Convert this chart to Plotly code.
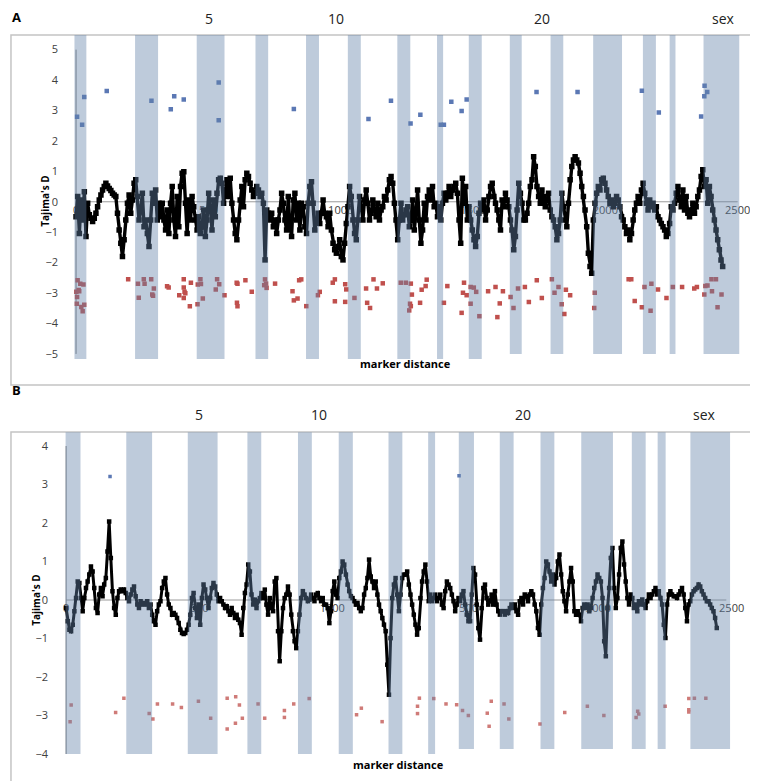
import numpy as np
import plotly.graph_objects as go

# ---------------- DATA ----------------
# Panel A: sliding-window Tajima's D (evenly spaced markers)
A_step = 6.265
A_line_y = [
-0.49,0.17,-1.04,0.06,-0.60,0.33,-1.14,-0.05,-0.43,-0.54,-0.65,-0.54,-0.38,-0.16,0.06,0.22,0.39,0.50,0.61,0.52,
0.44,0.37,0.28,0.22,0.17,-0.38,-0.93,-1.36,-1.80,-1.25,-0.60,-0.05,0.22,-0.38,0.06,0.61,0.72,0.17,-0.60,-0.27,
0.28,-0.82,-0.60,-1.04,-1.47,-0.60,0.28,-0.05,0.39,-0.60,-0.05,-0.49,-0.05,-0.60,-0.93,-0.27,-1.04,-0.05,0.50,-0.60,
-1.14,0.17,-0.82,0.50,0.94,0.99,-0.05,-1.04,0.06,-0.60,0.17,-0.16,-0.60,-0.93,-0.49,-1.04,-0.82,-0.27,-1.14,-0.60,
0.28,-0.16,-0.93,0.06,-0.49,0.28,0.72,0.77,0.61,-0.05,0.39,0.72,0.17,0.77,-0.05,-0.60,-1.04,-1.25,-0.60,0.06,
0.50,-0.16,0.72,0.94,0.83,0.61,0.39,0.17,0.28,0.50,0.39,0.17,0.28,-0.05,-1.91,-0.27,-0.38,-0.60,-0.38,-0.82,
-0.60,-1.04,-0.60,-0.27,0.28,-0.05,-0.60,-0.93,0.17,-0.82,-1.14,0.06,0.28,-0.60,-0.05,-0.93,-0.05,-0.16,-0.82,-1.04,
-0.05,0.50,0.66,-0.05,-0.93,-0.60,-0.38,-0.71,-0.38,0.06,-0.38,-0.49,-0.82,-0.38,-0.93,-1.36,-1.58,-1.69,-1.47,-1.25,
-1.80,-1.91,-1.36,-0.71,-0.16,0.50,0.17,-0.60,-1.04,-1.25,-0.60,0.17,-0.16,-0.60,0.06,0.39,-0.05,-0.60,-0.38,0.06,
-0.27,-0.49,-0.05,-0.60,-0.27,-0.16,0.17,0.06,0.39,0.72,0.83,0.61,-0.05,-0.60,-1.25,-0.60,-0.05,-0.60,-0.43,-0.27,
-0.16,
-0.82,-0.60,0.06,-0.93,-0.38,0.39,-0.60,-1.36,-0.93,-0.05,-0.60,0.17,0.39,0.06,0.50,-0.16,-0.05,-0.49,-0.16,-0.60,
-0.05,0.28,0.06,0.28,0.50,0.17,0.39,0.50,0.61,0.28,-0.60,-1.36,0.77,-0.05,0.50,-0.60,-0.16,-0.60,-0.93,-1.25,
-1.47,-1.14,-0.38,-0.05,-0.27,0.06,-0.60,-0.27,0.17,0.50,0.61,0.17,-0.05,-0.27,-0.60,-0.93,0.06,-0.16,0.28,0.06,
-0.16,-0.60,-0.93,-1.58,-1.14,-0.27,0.61,0.28,-0.05,-0.60,-0.60,-0.38,-0.05,0.50,0.72,1.48,1.16,0.50,0.17,-0.05,
0.39,0.17,-0.16,0.06,0.28,-0.27,-0.49,-0.60,-0.82,-1.25,-1.04,-0.60,0.28,-0.16,-0.60,-0.82,-0.05,0.72,1.16,1.37,
1.48,1.37,1.27,0.94,0.50,0.17,-0.27,-0.82,-1.69,-2.13,-2.35,-0.60,-0.05,0.28,0.50,0.39,0.72,0.77,0.61,0.39,
0.17,-0.05,0.06,-0.16,-0.05,0.17,0.06,-0.16,-0.49,-0.60,-0.82,-1.04,-0.93,-1.25,-1.04,-0.60,-0.27,-0.05,0.17,-0.05,
0.39,0.61,0.28,-0.05,-0.27,0.06,-0.16,-0.05,-0.27,-0.16,-0.49,-0.60,-0.71,-0.82,-0.93,-1.14,-1.04,-0.71,-0.16,-0.27,
-0.05,0.28,0.50,0.06,-0.16,0.39,-0.27,0.17,-0.38,-0.49,-0.27,-0.05,-0.38,-0.16,0.17,0.39,0.83,1.05,0.50,0.72,
-0.05,0.50,0.17,-0.27,-0.60,-0.93,-1.25,-1.58,-1.91,-2.13,
]
A_blue_x = [4, 23, 31, 116, 285, 358, 371, 407, 539, 539, 823, 1105, 1190, 1264, 1301, 1378, 1390, 1418,
            1457, 1476, 1740, 1895, 2138, 2202, 2362, 2374, 2375, 2385]
A_blue_y = [2.79, 2.53, 3.44, 3.64, 3.32, 3.04, 3.47, 3.36, 3.92, 2.68, 3.05, 2.72, 3.32, 2.57, 2.86, 2.53, 2.53, 3.29,
            2.98, 3.36, 3.61, 3.61, 3.65, 2.93, 2.80, 3.47, 3.81, 3.61]
A_red_x = [6, 16, 28, 1, 12, 4, 3, 20, 25, 31, 10, 197, 234, 237, 256, 259, 284, 288, 294, 291,
           344, 350, 390, 407, 407, 407, 410, 413, 430, 434, 459, 460, 472, 470, 479, 533, 541, 528, 561, 607,
           610, 608, 610, 640, 664, 714, 718, 711, 720, 752, 818, 823, 837, 843, 851, 870, 914, 921, 970, 978,
           978, 1017, 1021, 1017, 1052, 1096, 1100, 1111, 1124, 1137, 1159, 1227, 1246, 1265, 1269, 1262, 1265, 1259, 1300, 1306,
           1321, 1325, 1390, 1403, 1457, 1462, 1466, 1476, 1491, 1491, 1503, 1512, 1524, 1557, 1585, 1592, 1601, 1613, 1642, 1653,
           1670, 1696, 1711, 1741, 1760, 1798, 1808, 1823, 1835, 1845, 1851, 1867, 1960, 1958, 2088, 2098, 2111, 2138, 2148, 2171,
           2174, 2199, 2231, 2255, 2290, 2336, 2346, 2374, 2378, 2386, 2401, 2403, 2418, 2424, 2439]
A_red_y = [-2.58, -2.69, -2.72, -2.96, -2.94, -3.13, -3.35, -3.46, -3.60, -3.38, -2.90, -2.55, -2.69, -3.15, -2.55, -2.69, -2.55, -3.05, -2.85, -3.09,
           -2.78, -2.82, -3.07, -2.55, -2.82, -3.16, -2.96, -3.01, -3.43, -2.66, -3.37, -2.72, -2.70, -2.55, -3.18, -2.55, -2.71, -2.88, -3.07, -2.66,
           -2.69, -3.32, -3.43, -2.58, -2.96, -2.55, -2.69, -2.74, -2.83, -2.69, -2.94, -3.24, -3.18, -2.58, -2.55, -3.43, -3.07, -2.96, -2.66, -2.55,
           -3.27, -2.71, -2.88, -3.29, -3.16, -2.85, -3.32, -3.49, -2.55, -2.85, -2.68, -2.66, -2.66, -2.69, -3.05, -3.35, -3.43, -3.57, -3.32, -2.89,
           -2.77, -2.56, -3.32, -2.77, -3.65, -2.99, -2.66, -3.07, -3.35, -2.80, -2.82, -2.96, -3.76, -2.94, -2.80, -3.79, -3.34, -2.94, -3.13, -3.49,
           -2.85, -2.80, -3.29, -2.58, -3.16, -2.55, -2.99, -2.80, -3.37, -3.69, -2.89, -3.07, -2.99, -3.49, -2.55, -2.55, -3.26, -3.47, -2.80, -3.58,
           -2.69, -2.88, -3.16, -2.80, -2.80, -2.85, -2.80, -3.05, -2.77, -2.75, -2.55, -2.94, -2.55, -3.47, -3.05]
A_band_start = [-6, 223, 456, 678, 869, 1027, 1214, 1364, 1484, 1639, 1793, 1954, 2142, 2243, 2371]
A_band_end = [39, 310, 561, 726, 918, 1076, 1263, 1387, 1533, 1684, 1841, 2063, 2191, 2265, 2506]
A_chrom_labels = ["5", "10", "20", "sex"]
A_chrom_pos = [501, 982, 1759, 2446]

# Panel B
B_step = 6.219
B_line_y = [
-0.21,-0.55,-0.77,-0.81,-0.64,-0.29,0.05,0.48,0.44,0.05,-0.29,0.05,0.31,0.48,0.66,0.87,0.74,0.31,-0.21,-0.34,
0.14,0.31,0.10,0.40,0.57,1.26,2.04,1.09,0.23,-0.21,-0.38,0.05,0.23,0.27,0.23,0.27,0.18,0.05,-0.03,0.14,
0.27,0.35,0.10,-0.12,-0.21,-0.03,-0.12,-0.08,-0.12,-0.03,-0.21,-0.12,-0.38,-0.55,-0.64,-0.29,-0.12,-0.03,0.31,0.48,
0.57,0.14,-0.12,-0.21,-0.38,-0.34,-0.38,-0.47,-0.60,-0.77,-0.86,-0.88,-0.86,-0.77,-0.64,-0.38,0.05,0.18,-0.21,-0.47,
-0.12,-0.64,0.05,0.40,0.27,0.05,-0.21,0.05,0.31,0.44,0.35,0.14,-0.03,0.05,-0.03,-0.12,-0.21,-0.16,-0.29,-0.38,
-0.21,-0.34,-0.47,-0.38,-0.51,-0.60,-0.90,-0.21,0.18,0.40,0.92,0.74,0.14,-0.12,0.01,-0.21,-0.03,0.05,0.18,0.05,
0.27,-0.12,-0.38,0.05,-0.21,-0.29,0.48,0.57,-0.81,-1.59,-0.81,-0.21,0.05,0.14,0.35,0.14,-0.38,-0.81,-1.07,-1.25,
-0.81,-0.38,0.05,0.23,0.14,0.05,-0.03,0.01,0.14,0.05,-0.03,0.14,0.18,0.05,-0.03,0.05,-0.12,-0.12,-0.21,-0.60,
-0.29,0.23,0.48,0.14,0.05,0.57,0.74,1.00,0.92,0.66,0.40,0.23,0.10,0.05,-0.03,-0.12,-0.08,-0.21,-0.29,-0.21,
0.14,0.31,0.57,1.05,0.61,0.48,0.31,0.48,0.14,-0.12,-0.29,-0.47,-0.64,-0.81,-1.68,-2.46,-0.99,0.05,0.40,0.57,
0.14,-0.29,0.14,0.57,0.66,
0.66,0.74,0.40,0.14,-0.12,-0.38,-0.64,-0.90,-0.73,0.05,0.48,0.74,0.92,0.48,-0.03,0.14,-0.03,0.05,0.14,-0.03,
0.05,0.14,-0.12,-0.21,0.23,0.48,0.40,0.31,0.14,-0.03,-0.29,-0.12,0.05,-0.03,0.14,0.23,-0.12,-0.38,-0.55,-0.55,
0.14,0.83,0.66,-0.12,-0.73,-1.03,-0.21,0.31,0.40,0.05,-0.12,-0.03,0.14,-0.12,0.23,-0.12,-0.29,-0.38,-0.29,-0.29,
-0.38,-0.29,-0.34,-0.21,-0.12,-0.21,-0.12,-0.29,-0.38,-0.03,0.05,-0.12,0.14,0.10,-0.03,0.14,0.23,0.14,-0.12,-0.29,
-0.73,-0.90,-0.12,0.31,0.57,1.00,0.92,0.74,0.48,0.66,0.40,0.57,1.00,1.18,0.66,0.23,-0.03,-0.29,0.14,0.48,
0.83,0.48,-0.29,-0.38,-0.29,-0.38,-0.55,-0.21,-0.12,-0.21,-0.12,-0.29,-0.21,0.05,0.31,0.48,0.66,0.57,0.48,0.05,
-1.07,-1.46,-0.21,0.31,1.09,1.35,0.31,-0.21,0.05,0.66,1.35,1.52,0.92,0.48,0.05,-0.12,0.14,0.05,-0.21,-0.12,
-0.29,-0.03,-0.12,0.01,-0.12,-0.21,-0.03,0.14,0.05,0.14,0.23,0.31,0.14,0.23,0.05,-0.12,-0.64,-0.99,-0.12,0.14,
0.23,0.14,0.10,0.10,0.05,0.14,0.23,0.31,0.14,-0.21,-0.55,-0.12,-0.03,0.14,0.23,0.27,0.31,0.40,0.35,0.23,
0.14,0.05,-0.03,-0.03,-0.12,-0.21,-0.29,-0.47,-0.73,
]
B_blue_x = [165, 1476]
B_blue_y = [3.21, 3.23]
B_red_x = [19, 15, 186, 217, 312, 326, 343, 400, 433, 497, 543, 605, 637, 651, 662, 636, 605, 721, 746, 820,
           820, 855, 913, 1091, 1109, 1187, 1327, 1320, 1320, 1381, 1427, 1467, 1489, 1511, 1582, 1589, 1597, 1645, 1663, 1780,
           1873, 1958, 2020, 2141, 2147, 2151, 2250, 2339, 2339, 2339, 2360, 2403]
B_red_y = [-2.73, -3.16, -2.92, -2.55, -2.95, -3.09, -2.70, -2.70, -2.79, -2.63, -3.07, -2.55, -2.51, -2.73, -3.07, -3.20, -3.35, -2.70, -3.07, -2.87,
           -3.05, -2.70, -2.56, -2.98, -2.81, -3.16, -2.55, -2.76, -2.95, -2.56, -2.70, -2.72, -2.87, -3.00, -2.94, -3.28, -2.63, -2.70, -3.09, -3.22,
           -2.92, -2.76, -3.00, -3.05, -2.89, -2.96, -2.76, -2.56, -2.85, -2.91, -2.55, -2.55]
B_band_start = [-2, 226, 457, 681, 871, 1024, 1211, 1360, 1475, 1629, 1782, 1935, 2125, 2222, 2345]
B_band_end = [54, 323, 569, 733, 923, 1077, 1263, 1386, 1532, 1681, 1834, 2054, 2177, 2252, 2494]
B_chrom_labels = ["5", "10", "20", "sex"]
B_chrom_pos = [498, 950, 1718, 2397]

x_ticks = [0, 500, 1000, 1500, 2000, 2500]
A_y_ticks = [-5, -4, -3, -2, -1, 0, 1, 2, 3, 4, 5]
B_y_ticks = [-4, -3, -2, -1, 0, 1, 2, 3, 4]

# ---------------- FIGURE ----------------
W, H = 758, 781
FONT = "Open Sans"
TICKC = "#404040"

def px(v):
    return v / W

def py(v):
    return 1 - v / H

A_line_x = np.arange(len(A_line_y)) * A_step
B_line_x = np.arange(len(B_line_y)) * B_step

fig = go.Figure()

def add_panel(xa, ya, lx, ly, bx, by, rx, ry, msize, rcolor, lw, lm):
    fig.add_trace(go.Scatter(x=lx, y=ly, mode="lines+markers", xaxis=xa, yaxis=ya,
                             line=dict(color="black", width=lw),
                             marker=dict(symbol="square", size=lm, color="black"),
                             showlegend=False, hoverinfo="skip"))
    fig.add_trace(go.Scatter(x=bx, y=by, mode="markers", xaxis=xa, yaxis=ya,
                             marker=dict(symbol="square", size=msize, color="#5b78b4"),
                             showlegend=False, hoverinfo="skip"))
    fig.add_trace(go.Scatter(x=rx, y=ry, mode="markers", xaxis=xa, yaxis=ya,
                             marker=dict(symbol="square", size=msize, color=rcolor),
                             showlegend=False, hoverinfo="skip"))

add_panel("x", "y", A_line_x, A_line_y, A_blue_x, A_blue_y, A_red_x, A_red_y, 4.5, "#c0504d", 3.4, 5.5)
add_panel("x2", "y2", B_line_x, B_line_y, B_blue_x, B_blue_y, B_red_x, B_red_y, 3.5, "#cf7b78", 3.0, 4.5)

shapes = []
# outer boxes
for top, bot in [(27, 377), (424, 779)]:
    shapes.append(dict(type="rect", xref="paper", yref="paper", x0=px(3), x1=px(753),
                       y0=py(bot), y1=py(top), line=dict(color="#c4c4c4", width=1.5),
                       fillcolor="rgba(0,0,0,0)", layer="below"))
# zero lines and y-axis lines
shapes.append(dict(type="line", xref="x", yref="y", x0=0, x1=2500, y0=0, y1=0,
                   line=dict(color="#9a9a9a", width=1), layer="below"))
shapes.append(dict(type="line", xref="x", yref="y", x0=0, x1=0, y0=-5, y1=5,
                   line=dict(color="#808080", width=1), layer="below"))
shapes.append(dict(type="line", xref="x2", yref="y2", x0=0, x1=2480, y0=0, y1=0,
                   line=dict(color="#9a9a9a", width=1), layer="below"))
shapes.append(dict(type="line", xref="x2", yref="y2", x0=0, x1=0, y0=-4, y1=4,
                   line=dict(color="#808080", width=1), layer="below"))
# chromosome bands (semi-transparent overlay)
for i, (s, e) in enumerate(zip(A_band_start, A_band_end)):
    shapes.append(dict(type="rect", xref="x", yref="y", x0=s, x1=e,
                       y0=-5.17 if i < 9 else -5.0, y1=5.48,
                       fillcolor="rgb(99,132,169)", opacity=0.42, line=dict(width=0), layer="above"))
for i, (s, e) in enumerate(zip(B_band_start, B_band_end)):
    shapes.append(dict(type="rect", xref="x2", yref="y2", x0=s, x1=e,
                       y0=-4.0 if i < 8 else -3.87, y1=4.36,
                       fillcolor="rgb(99,132,169)", opacity=0.42, line=dict(width=0), layer="above"))

ann = []
ann.append(dict(text="<b>A</b>", x=px(2), y=py(9), xref="paper", yref="paper", showarrow=False,
                xanchor="left", yanchor="middle", font=dict(family=FONT, size=13, color="black")))
ann.append(dict(text="<b>B</b>", x=px(2), y=py(382), xref="paper", yref="paper", showarrow=False,
                xanchor="left", yanchor="middle", font=dict(family=FONT, size=13, color="black")))
for lab, pos in zip(A_chrom_labels, A_chrom_pos):
    ann.append(dict(text=lab, x=pos, y=py(11), xref="x", yref="paper", showarrow=False,
                    xanchor="center", yanchor="middle", font=dict(family=FONT, size=14, color="#222")))
for lab, pos in zip(B_chrom_labels, B_chrom_pos):
    ann.append(dict(text=lab, x=pos, y=py(406), xref="x2", yref="paper", showarrow=False,
                    xanchor="center", yanchor="middle", font=dict(family=FONT, size=14, color="#222")))
ann.append(dict(text="<b>marker distance</b>", x=px(400), y=py(356), xref="paper", yref="paper",
                showarrow=False, xanchor="center", yanchor="middle",
                font=dict(family=FONT, size=11, color="black")))
ann.append(dict(text="<b>marker distance</b>", x=px(393), y=py(756), xref="paper", yref="paper",
                showarrow=False, xanchor="center", yanchor="middle",
                font=dict(family=FONT, size=11, color="black")))
ann.append(dict(text="<b>Tajima's D</b>", x=px(37), y=py(193), xref="paper", yref="paper",
                showarrow=False, textangle=-90, xanchor="center", yanchor="middle",
                font=dict(family=FONT, size=10, color="black")))
ann.append(dict(text="<b>Tajima's D</b>", x=px(28), y=py(592), xref="paper", yref="paper",
                showarrow=False, textangle=-90, xanchor="center", yanchor="middle",
                font=dict(family=FONT, size=10, color="black")))

tickfont = dict(family=FONT, size=11, color=TICKC)
common_x = dict(range=[-30, 2530], showgrid=False, zeroline=False, showline=False,
                tickvals=x_ticks, ticks="", tickfont=tickfont, layer="below traces", anchor="free")
common_y = dict(showgrid=False, zeroline=False, showline=False, ticks="", tickfont=tickfont)

fig.update_layout(
    width=W, height=H, margin=dict(l=0, r=0, t=0, b=0),
    paper_bgcolor="white", plot_bgcolor="rgba(0,0,0,0)",
    xaxis=dict(domain=[60.5 / W, 742.5 / W], position=py(193.8), **common_x),
    yaxis=dict(domain=[py(358.1), py(26.4)], range=[-5.4, 5.5], tickvals=A_y_ticks,
               anchor="x", ticklabelstandoff=9, **common_y),
    xaxis2=dict(domain=[50.46 / W, 736.5 / W], position=py(592), **common_x),
    yaxis2=dict(domain=[py(772.95), py(422.6)], range=[-4.7, 4.4], tickvals=B_y_ticks,
                anchor="x2", ticklabelstandoff=9, **common_y),
    shapes=shapes, annotations=ann,
)

fig.write_html("out.html")
